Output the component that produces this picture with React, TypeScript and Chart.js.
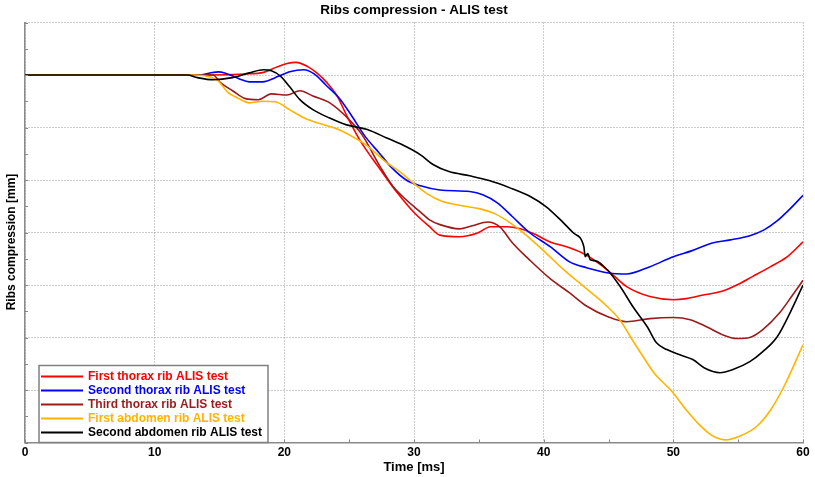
import React, { useEffect, useRef } from "react";
import { Chart, registerables } from "chart.js";

Chart.register(...registerables);

const chartTitle = "Ribs compression - ALIS test";
const xTitle = "Time [ms]";
const yTitle = "Ribs compression [mm]";

const seriesLabels = [
  "First thorax rib ALIS test",
  "Second thorax rib ALIS test",
  "Third thorax rib ALIS test",
  "First abdomen rib ALIS test",
  "Second abdomen rib ALIS test",
];
const seriesColors = ["#ff0000", "#0000ff", "#9b1b1b", "#ffb400", "#000000"];

const tRed = [0, 12, 17, 18.4, 19.4, 20.2, 20.9, 21.8, 22.5, 23.3, 24.1, 24.8, 25.8, 27.4, 28.7, 30, 31.2, 32, 33.5, 34.9, 35.9, 37.2, 38.2, 39.2, 40.5, 42, 43.3, 44.9, 46.4, 48.2, 50, 51, 52.3, 53.6, 54.9, 56.1, 57.5, 58.8, 60];
const vRed = [70, 70, 70.2, 70.5, 71.5, 72.2, 72.4, 71.6, 70.4, 68.5, 65.9, 62.3, 57.7, 52, 47.6, 43.8, 41.1, 39.5, 39.2, 39.9, 41.1, 41.1, 40.7, 39.8, 38.2, 37.1, 35.7, 32.9, 29.7, 27.8, 27.2, 27.4, 28.1, 28.7, 30, 31.6, 33.5, 35.4, 38.2];

const tBlue = [0, 12, 13.3, 14.9, 15.4, 16.5, 17.3, 18.3, 19.6, 20.4, 21.5, 22.3, 23.2, 24.3, 25.2, 26.2, 27.3, 28.3, 29.4, 30.5, 32, 34.3, 35.3, 36.4, 37.6, 38.9, 40.5, 42, 43.3, 45, 46.4, 48.2, 50, 51.4, 53, 54.4, 55.9, 57, 58, 59, 60];
const vBlue = [70, 70, 70, 70.6, 70.4, 69.3, 68.7, 68.7, 69.8, 70.6, 71, 70.2, 68.1, 65.4, 62.2, 58.4, 55.2, 52.3, 50, 48.9, 48.1, 47.8, 47.2, 45.7, 43, 40, 37.3, 34.4, 33.3, 32.3, 32.1, 33.5, 35.4, 36.5, 38, 38.6, 39.4, 40.5, 42.2, 44.5, 47.1];

const tDarkRed = [0, 14.5, 15.1, 16, 17, 18, 19, 20.2, 21.2, 22.2, 23.5, 24.8, 26, 27.4, 28.4, 29.5, 30.5, 31.2, 32, 33.5, 34.5, 35.7, 36.6, 37.6, 38.9, 40.5, 42, 43.3, 45, 46.4, 48.2, 50, 51.3, 52.6, 53.8, 54.9, 55.9, 56.9, 58.2, 59.2, 60];
const vDarkRed = [70, 70, 68.5, 67, 65.5, 65.3, 66.4, 66.2, 67, 66, 64.7, 62, 58.6, 52.5, 48.7, 46, 43.9, 42.4, 41.5, 40.7, 41.3, 42, 41.1, 38, 34.8, 31.2, 28.5, 26, 23.9, 23, 23.6, 23.8, 23.4, 22, 20.5, 19.8, 20, 21.5, 24.7, 28.1, 30.9];

const tYellow = [0, 13, 14.3, 14.9, 15.6, 16.5, 17.3, 18.3, 19.3, 20.4, 21.7, 22.8, 24.2, 25.3, 26.3, 27.9, 29, 29.9, 31, 32.1, 33.7, 35.1, 36.3, 37.5, 38.6, 40, 41.6, 43.2, 44.9, 45.9, 46.7, 47.5, 48.5, 49.9, 51, 52, 53, 54, 55.2, 56.4, 57.5, 58.6, 60];
const vYellow = [70, 70, 69.6, 68.9, 66.8, 65.5, 64.7, 65, 64.9, 63.4, 61.6, 60.7, 59.6, 58.2, 56.7, 53.3, 51.4, 49.5, 47.4, 46, 45.1, 44.5, 43.5, 41.7, 39.6, 36.5, 32.8, 29.5, 25.9, 23.3, 20.1, 17, 13.3, 9.7, 6.2, 3.4, 1.3, 0.5, 1.3, 3, 6.2, 11, 18.6];

const tBlack = [0, 12.5, 13.3, 14.5, 16, 17.3, 18.4, 19, 19.7, 20.4, 21.2, 22.2, 23.5, 24.8, 26.4, 27.9, 29.1, 30.5, 31.5, 32.7, 34.3, 35.8, 37.4, 39, 40.2, 41.3, 42.3, 43.1, 43.2, 43.4, 43.6, 44, 44.9, 45.9, 46.9, 48, 48.7, 49.5, 50.5, 51.5, 52.4, 53.6, 54.6, 55.9, 56.9, 58, 59, 60];
const vBlack = [70, 70, 69.5, 69.1, 69.5, 70.4, 71, 70.8, 69.8, 67.8, 65.3, 63.4, 61.8, 60.5, 59.6, 58, 56.7, 54.8, 52.9, 51.6, 50.8, 49.9, 48.5, 46.8, 44.9, 42.4, 39.9, 37.3, 35.4, 36, 34.8, 34.6, 32.9, 29.7, 25.8, 22, 19, 17.7, 16.7, 15.8, 14.2, 13.3, 13.9, 15.4, 17.3, 20.1, 24.7, 30];

const seriesTimes = [tRed, tBlue, tDarkRed, tYellow, tBlack];
const seriesValues = [vRed, vBlue, vDarkRed, vYellow, vBlack];

const xMin = 0, xMax = 60, xMajor = 10, xMinor = 5;
const yMin = 0, yMax = 80, yMajor = 10, yMinor = 5;

const FONT = "'Liberation Sans', Arial, sans-serif";

const innerTicks = {
  id: "innerTicks",
  afterDatasetsDraw(chart: any) {
    const { ctx, chartArea, scales } = chart;
    ctx.save();
    ctx.strokeStyle = "#888888";
    ctx.lineWidth = 1;
    ctx.beginPath();
    for (const t of scales.y.ticks) {
      const y = Math.round(scales.y.getPixelForValue(t.value)) + 0.5;
      ctx.moveTo(chartArea.left, y);
      ctx.lineTo(chartArea.left + 3, y);
    }
    for (const t of scales.x.ticks) {
      const x = Math.round(scales.x.getPixelForValue(t.value)) + 0.5;
      ctx.moveTo(x, chartArea.bottom);
      ctx.lineTo(x, chartArea.bottom - 3);
    }
    ctx.stroke();
    ctx.restore();
  },
};

const textLabels = {
  id: "textLabels",
  afterDraw(chart: any) {
    const { ctx, chartArea } = chart;
    const cx = (chartArea.left + chartArea.right) / 2;
    ctx.save();
    ctx.fillStyle = "#000";
    ctx.textAlign = "center";
    ctx.textBaseline = "middle";
    ctx.font = `bold 13.5px ${FONT}`;
    ctx.fillText(chartTitle, cx, 10);
    ctx.font = `bold 13px ${FONT}`;
    ctx.fillText(xTitle, cx, 467);
    ctx.translate(12, 242);
    ctx.rotate(-Math.PI / 2);
    ctx.font = `bold 12px ${FONT}`;
    ctx.fillText(yTitle, 0, 0);
    ctx.restore();
  },
};

const boxLegend = {
  id: "boxLegend",
  afterDraw(chart: any) {
    const { ctx, chartArea } = chart;
    const left = chartArea.left + 14;
    const top = chartArea.bottom - 77;
    const w = 229;
    const h = 77;
    ctx.save();
    ctx.fillStyle = "#ffffff";
    ctx.fillRect(left, top, w, h);
    ctx.strokeStyle = "#808080";
    ctx.lineWidth = 1.5;
    ctx.strokeRect(left, top, w, h);
    ctx.font = `bold 12px ${FONT}`;
    ctx.textBaseline = "middle";
    chart.data.datasets.forEach((ds: any, i: number) => {
      const y = top + 11 + 14 * i;
      ctx.strokeStyle = ds.borderColor;
      ctx.lineWidth = 2;
      ctx.beginPath();
      ctx.moveTo(left + 2, y);
      ctx.lineTo(left + 44, y);
      ctx.stroke();
      ctx.fillStyle = ds.borderColor;
      ctx.fillText(ds.label, left + 49, y);
    });
    ctx.restore();
  },
};

export default function App() {
  const ref = useRef<HTMLCanvasElement>(null);
  useEffect(() => {
    document.body.style.margin = "0";
    const datasets = seriesLabels.map((label, i) => ({
      label,
      data: seriesTimes[i].map((t, j) => ({ x: t, y: seriesValues[i][j] })),
      borderColor: seriesColors[i],
      backgroundColor: seriesColors[i],
      borderWidth: 1.6,
      pointRadius: 0,
      cubicInterpolationMode: "monotone" as const,
      fill: false,
      order: seriesLabels.length - i,
    }));
    const gridColor = (major: number) => (c: any) =>
      c.tick && Math.abs(c.tick.value % major) < 1e-6 ? "#9a9a9a" : "rgba(0,0,0,0)";
    const chart = new Chart(ref.current!, {
      type: "line",
      data: { datasets },
      options: {
        animation: false,
        responsive: false,
        layout: { padding: { left: 0, right: 12, top: 22.5, bottom: 0 } },
        plugins: {
          legend: { display: false },
          tooltip: { enabled: false },
          title: { display: false },
        },
        scales: {
          x: {
            type: "linear",
            min: xMin,
            max: xMax,
            ticks: {
              stepSize: xMinor,
              autoSkip: false,
              maxRotation: 0,
              color: "#000",
              padding: 3,
              font: { family: FONT, size: 12, weight: "bold" },
              callback: (v: any) => (v % xMajor === 0 ? String(v) : ""),
            },
            grid: { color: gridColor(xMajor), drawTicks: false, lineWidth: 1 },
            border: { display: true, color: "#8a8a8a", width: 1.5, dash: [1, 2] },
            afterFit: (s: any) => {
              s.height = 34.5;
            },
          },
          y: {
            type: "linear",
            min: yMin,
            max: yMax,
            ticks: { display: false, stepSize: yMinor },
            grid: { color: gridColor(yMajor), drawTicks: false, lineWidth: 1 },
            border: { display: true, color: "#8a8a8a", width: 1.5, dash: [1, 2] },
            afterFit: (s: any) => {
              s.width = 25;
            },
          },
        },
      },
      plugins: [innerTicks, textLabels, boxLegend],
    });
    return () => chart.destroy();
  }, []);
  return (
    <div style={{ width: 815, height: 477, background: "#fff" }}>
      <canvas ref={ref} width={815} height={477} style={{ display: "block" }} />
    </div>
  );
}
